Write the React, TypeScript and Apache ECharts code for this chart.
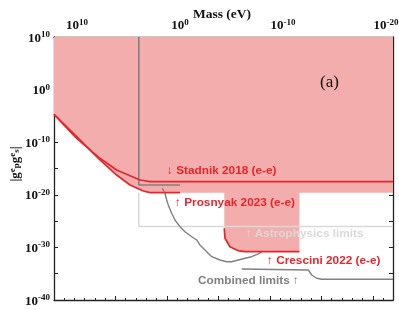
import React, { useEffect, useRef } from "react";
import * as echarts from "echarts";

// x values: log10(mass / eV); y values: log10(|g_p^e g_s^e|)
const xMin = -20.68;
const xMax = 12.23;
const yMin = -40;
const yMax = 10;

const topTickValues = [10, 5, 0, -5, -10, -15, -20];
const topLabelValues = [10, 0, -10, -20];
const leftLabelValues = [10, 0, -10, -20, -30, -40];
const bottomMinorTicks = [11.27, 10.27, 9.27, 8.27, 7.27, 6.27, 5.27, 4.27, 3.27, 2.27, 1.27, 0.27, -0.73, -1.73, -2.73, -3.73, -4.73, -5.73, -6.73, -7.73, -8.73, -9.73, -10.73, -11.73, -12.73, -13.73, -14.73, -15.73, -16.73, -17.73, -18.73, -19.73];
const bottomMajorTicks = [6.27, 1.27, -3.73, -8.73, -13.73, -18.73];

const stadnikX = [12.23, 10.03, 7.77, 6.15, 3.88, 2.91, -20.68];
const stadnikY = [-4.7, -9.26, -13.06, -15.29, -17.19, -17.51, -17.51];

const prosnyakX = [12.23, 10.03, 7.77, 6.15, 4.85, 3.56, 2.91, 0.0];
const prosnyakY = [-4.7, -8.95, -13.38, -16.24, -18.14, -19.28, -19.6, -19.6];

const cresciniX = [-4.3, -4.37, -4.85, -5.66, -6.31, -11.6];
const cresciniY = [-26.37, -28.27, -29.87, -30.63, -30.82, -30.82];

const labLimitX = [4.0, 4.0, 0.0];
const labLimitY = [10, -18.14, -18.14];

const astroX = [4.0, 4.0, -20.68];
const astroY = [-19.6, -26.03, -26.03];

const combinedAX = [1.72, 1.46, 1.29, 1.14, 0.81, 0.49, 0.0, -0.49, -1.14, -1.62, -1.94, -2.43, -3.08, -3.88, -4.53, -5.02, -5.66, -6.31, -6.96, -7.6, -7.96];
const combinedAY = [-18.76, -19.71, -20.99, -21.94, -23.52, -24.79, -26.06, -27.02, -27.97, -28.59, -29.54, -30.49, -31.77, -32.4, -32.72, -32.72, -32.4, -32.07, -31.77, -31.25, -30.87];

const combinedBX = [-5.99, -12.46, -12.79, -13.27, -13.76, -20.68];
const combinedBY = [-34.11, -34.3, -35.25, -35.87, -36.06, -36.06];

const pair = (xs: number[], ys: number[]) => xs.map((x, i) => [x, ys[i]]);

const RED = "#e5262c";
const PINK = "#f4adad";
const GRAY = "#808080";
const LIGHTGRAY = "#d9d9d9";
const SERIF = "'Liberation Serif', 'Times New Roman', serif";
const SANS = "'Liberation Sans', Arial, sans-serif";

export default function App() {
  const ref = useRef<HTMLDivElement>(null);
  useEffect(() => {
    if (!ref.current) return;
    const chart = echarts.init(ref.current, null, { renderer: "svg" });

    const floor = prosnyakY[prosnyakY.length - 1];
    const fill = [
      ...pair(prosnyakX, prosnyakY),
      [cresciniX[0], floor],
      ...pair(cresciniX, cresciniY),
      [cresciniX[cresciniX.length - 1], floor],
      [xMin, floor],
    ];

    const expRich = {
      b: { fontFamily: SERIF, fontWeight: "bold", fontSize: 13, color: "#111", lineHeight: 15 },
      s: { fontFamily: SERIF, fontWeight: "bold", fontSize: 9, color: "#111", verticalAlign: "top", lineHeight: 9 },
    };
    const expFmt = (v: number) => `{b|10}{s|${Math.round(v)}}`;

    const lineSeries = (data: number[][], color: string, width: number, z: number) => ({
      type: "line",
      data,
      showSymbol: false,
      symbol: "none",
      silent: true,
      z,
      lineStyle: { color, width },
    });

    const axisLineStyle = { show: true, onZero: false, lineStyle: { color: "#222", width: 1.3 } };

    const axisBase = {
      type: "value",
      min: xMin,
      max: xMax,
      inverse: true,
      splitLine: { show: false },
    };

    const labelStyle = { fontFamily: SANS, fontWeight: "bold", fontSize: 11.8, verticalAlign: "middle" };

    chart.setOption({
      animation: false,
      grid: { left: 54, right: 6, top: 37, bottom: 10, containLabel: false, outerBoundsMode: "none" },
      title: {
        text: "Mass (eV)",
        left: 217,
        top: 1,
        textAlign: "center",
        textStyle: { fontFamily: SERIF, fontWeight: "bold", fontSize: 13.5, color: "#111" },
      },
      xAxis: [
        {
          ...axisBase,
          position: "top",
          axisLine: axisLineStyle,
          axisTick: { show: true, inside: true, length: 4, customValues: topTickValues, lineStyle: { color: "#222" } },
          axisLabel: { show: true, customValues: topLabelValues, formatter: expFmt, rich: expRich, margin: 5 },
        },
        {
          ...axisBase,
          position: "bottom",
          axisLine: axisLineStyle,
          axisTick: { show: true, inside: true, length: 2, customValues: bottomMinorTicks, lineStyle: { color: "#222" } },
          axisLabel: { show: false },
        },
        {
          ...axisBase,
          position: "bottom",
          axisLine: { show: false, onZero: false },
          axisTick: { show: true, inside: true, length: 4, customValues: bottomMajorTicks, lineStyle: { color: "#222" } },
          axisLabel: { show: false },
        },
      ],
      yAxis: [
        {
          type: "value",
          min: yMin,
          max: yMax,
          interval: 5,
          position: "left",
          splitLine: { show: false },
          axisLine: axisLineStyle,
          axisTick: { show: true, inside: true, length: 4, lineStyle: { color: "#222" } },
          axisLabel: { show: true, customValues: leftLabelValues, formatter: expFmt, rich: expRich, margin: 4 },
        },
        {
          type: "value",
          min: yMin,
          max: yMax,
          interval: 5,
          position: "right",
          splitLine: { show: false },
          axisLine: axisLineStyle,
          axisTick: { show: true, inside: true, length: 4, lineStyle: { color: "#222" } },
          axisLabel: { show: false },
        },
      ],
      series: [
        {
          type: "line",
          data: fill,
          showSymbol: false,
          symbol: "none",
          silent: true,
          z: 1,
          lineStyle: { width: 0, color: PINK },
          areaStyle: { color: PINK, opacity: 1, origin: "end" },
        },
        lineSeries(pair(astroX, astroY), LIGHTGRAY, 1.6, 2),
        lineSeries(pair(labLimitX, labLimitY), GRAY, 1.6, 3),
        lineSeries(pair(combinedAX, combinedAY), GRAY, 1.4, 3),
        lineSeries(pair(combinedBX, combinedBY), GRAY, 1.4, 3),
        lineSeries(pair(stadnikX, stadnikY), RED, 1.7, 4),
        lineSeries(pair(prosnyakX, prosnyakY), RED, 1.7, 4),
        lineSeries(pair(cresciniX, cresciniY), RED, 1.7, 4),
      ],
      graphic: [
        {
          type: "text",
          x: 14,
          y: 164,
          rotation: Math.PI / 2,
          z: 10,
          style: {
            text: "|g{sup|e}{sub|p}g{sup|e}{sub|s}|",
            align: "center",
            verticalAlign: "middle",
            fontFamily: SERIF,
            fontSize: 13,
            fontWeight: "bold",
            fill: "#111",
            rich: {
              sup: { fontFamily: SERIF, fontSize: 9, fontWeight: "bold", verticalAlign: "top", lineHeight: 9, fill: "#111" },
              sub: { fontFamily: SERIF, fontSize: 9, fontWeight: "bold", verticalAlign: "bottom", lineHeight: 9, fill: "#111" },
            },
          },
        },
        { type: "text", x: 320, y: 81, z: 10, style: { text: "(a)", fontFamily: SERIF, fontSize: 17, fill: "#111", verticalAlign: "middle" } },
        { type: "text", x: 167, y: 170, z: 10, style: { ...labelStyle, text: "↓ Stadnik 2018 (e-e)", fill: RED } },
        { type: "text", x: 175, y: 202, z: 10, style: { ...labelStyle, text: "↑ Prosnyak 2023 (e-e)", fill: RED } },
        { type: "text", x: 246, y: 233, z: 10, style: { ...labelStyle, text: "↑ Astrophysics limits", fill: LIGHTGRAY } },
        { type: "text", x: 267, y: 260, z: 10, style: { ...labelStyle, text: "↑ Crescini 2022 (e-e)", fill: RED } },
        { type: "text", x: 198, y: 280, z: 10, style: { ...labelStyle, text: "Combined limits ↑", fill: GRAY } },
      ],
    });
    return () => chart.dispose();
  }, []);
  return <div ref={ref} style={{ position: "fixed", left: 0, top: 0, width: 399, height: 310 }} />;
}
